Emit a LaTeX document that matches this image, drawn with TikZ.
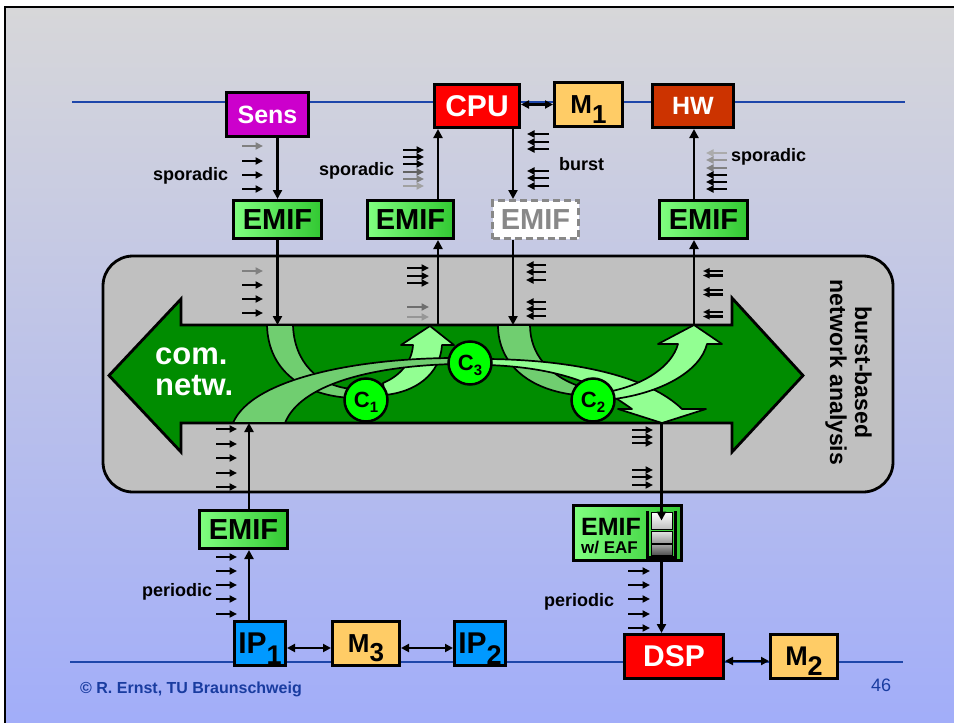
\documentclass[tikz,border=0pt]{standalone}
\usepackage{fontspec}
\setmainfont{Liberation Sans}
\usetikzlibrary{arrows.meta}
\definecolor{bgtop}{RGB}{215,215,217}
\definecolor{bgbot}{RGB}{160,172,250}
\definecolor{rulec}{RGB}{30,70,170}
\definecolor{panel}{RGB}{192,192,192}
\definecolor{netgreen}{RGB}{0,140,0}
\definecolor{bandmid}{RGB}{112,206,112}
\definecolor{bandlight}{RGB}{146,255,146}
\definecolor{cgreen}{RGB}{0,255,0}
\definecolor{emifL}{RGB}{128,255,128}
\definecolor{emifR}{RGB}{50,200,50}
\definecolor{sensc}{RGB}{204,0,204}
\definecolor{cpuc}{RGB}{255,0,0}
\definecolor{memc}{RGB}{255,204,102}
\definecolor{hwc}{RGB}{204,51,0}
\definecolor{ipc}{RGB}{0,153,255}
\definecolor{txtblue}{RGB}{25,60,160}
\definecolor{dashgray}{RGB}{136,136,136}
\newcommand\lowsub[2]{\raisebox{-#1}[0pt][0pt]{#2}}
\newcommand\fsz[1]{\fontsize{#1}{#1}\selectfont}
\begin{document}
\begin{tikzpicture}[x=1pt,y=-1pt,
  box/.style={draw=black,line width=3pt,inner sep=0pt,font=\bfseries},
  emif/.style={box,left color=emifL,right color=emifR,minimum width=88pt,minimum height=38pt,font=\fsz{29}\bfseries},
  conn/.style={line width=2.3pt,-{Triangle[length=9pt,width=9pt]}},
  dconn/.style={line width=2.3pt,{Triangle[length=8pt,width=8pt]}-{Triangle[length=8pt,width=8pt]}},
  flowr/.style={line width=2.4pt,-{Triangle[length=7.5pt,width=7pt]}},
  band/.style={draw=black,line width=1.7pt,line join=round},
  cnode/.style={circle,draw=black,line width=2.5pt,fill=cgreen,minimum size=43pt,inner sep=0pt,font=\fsz{22}\bfseries},
  lbl/.style={font=\fsz{18}\bfseries,inner sep=0pt,anchor=base west}]
\useasboundingbox (0,0) rectangle (954,723);
% background frame
\fill[white] (0,0) rectangle (954,723);
\draw[line width=2.2pt,top color=bgtop,bottom color=bgbot] (5,7) rectangle (975,745);
% rules
\draw[rulec,line width=1.4pt] (72,102) -- (905,102);
\draw[rulec,line width=1.4pt] (70,662) -- (903,662);
% panel
\draw[line width=2.8pt,fill=panel,rounded corners=30pt] (103,256) rectangle (893,492);
% network arrow
\draw[line width=2.8pt,fill=netgreen] (109,375.5) -- (181,299) -- (181,325) -- (732,325) -- (732,298) -- (803,375.5) -- (732,452) -- (732,423) -- (181,423) -- (181,452) -- cycle;
\coordinate (gtop) at (0,325);
\coordinate (gbot) at (0,423);
% bands
\draw[band,fill=bandmid] (267,325) .. controls (268,372) and (305,396) .. (352,398) -- (352,389) .. controls (318,386) and (294,362) .. (293,325) -- cycle;
\draw[band,fill=bandlight] (383,383) .. controls (400,376) and (412,362) .. (413,345) -- (401,345) -- (430,326) -- (454,345) -- (442,345) .. controls (440,375) and (415,392) .. (385,395) -- cycle;
\draw[band,fill=bandmid] (233,423) .. controls (252,378) and (360,358) .. (455,358) -- (455,364) .. controls (370,366) and (300,385) .. (285,423) -- cycle;
\draw[band,fill=bandmid] (498,325) .. controls (498,365) and (530,390) .. (576,395) -- (576,385) .. controls (550,375) and (530,355) .. (530,325) -- cycle;
\draw[band,fill=bandlight] (488,359) .. controls (580,360) and (650,378) .. (682,409) -- (706,409) -- (662,423) -- (618,409) -- (632,409) .. controls (605,390) and (570,368) .. (488,365) -- cycle;
\draw[band,fill=bandlight] (612,391) .. controls (645,384) and (672,366) .. (678,344) -- (658,344) -- (694,325) -- (722,344) -- (707,344) .. controls (700,372) and (660,393) .. (614,399) -- cycle;
% clusters
\node[cnode] (C1) at (366,400) {C\lowsub{5pt}{\fsz{15}1}};
\node[cnode] (C3) at (470,363) {C\lowsub{5pt}{\fsz{15}3}};
\node[cnode] (C2) at (593,400) {C\lowsub{5pt}{\fsz{15}2}};
% top boxes
\node[box,fill=sensc,text=white,minimum width=82pt,minimum height=44pt,font=\fsz{25}\bfseries] (Sens) at (267.5,114.5) {Sens};
\node[box,fill=cpuc,text=white,minimum width=85pt,minimum height=43pt,font=\fsz{30}\bfseries] (CPU) at (477,106) {CPU};
\node[box,fill=memc,minimum width=68pt,minimum height=44pt,font=\fsz{26}\bfseries] (M1) at (588.5,104.5) {M\lowsub{10pt}{1}};
\node[box,fill=hwc,text=white,minimum width=81pt,minimum height=43pt,font=\fsz{25}\bfseries] (HW) at (693,106) {HW};
% EMIFs
\node[emif] (E1) at (277.5,219.5) {EMIF};
\node[emif,minimum width=86pt] (E2) at (410.5,219.5) {EMIF};
\node[box,draw=dashgray,dash pattern=on 7pt off 4pt,fill=white,text=dashgray,minimum width=86pt,minimum height=38pt,font=\fsz{29}\bfseries] (E3) at (535.5,219.5) {EMIF};
\node[emif] (E4) at (703.5,219.5) {EMIF};
\node[emif] (E5) at (243.5,529.5) {EMIF};
\node[box,left color=emifL,right color=emifR,minimum width=108pt,minimum height=55pt] (E6) at (627.5,533) {};
\node[lbl,font=\fsz{25}\bfseries] (E6t) at (581,535) {EMIF};
\node[lbl,font=\fsz{17}\bfseries] (E6s) at (581,553) {w/ EAF};
% queue
\node[minimum width=27pt,minimum height=46pt,inner sep=0pt] (queue) at (661.5,534) {};
\node[draw=black,line width=0.8pt,top color=white,bottom color=black!25,minimum width=21pt,minimum height=17pt,inner sep=0pt] (qtop) at (661.5,520.5) {};
\node[draw=black,line width=0.8pt,top color=black!10,bottom color=black!40,minimum width=21pt,minimum height=12pt,inner sep=0pt] (qmid) at (661.5,537) {};
\node[draw=black,line width=0.8pt,top color=black!35,bottom color=black!70,minimum width=21pt,minimum height=11pt,inner sep=0pt] (qbot) at (661.5,550) {};
\draw[line width=2.8pt] (queue.north west) -- (queue.south west) -- (queue.south east) -- (queue.north east);
% bottom boxes
\node[box,fill=ipc,minimum width=51pt,minimum height=44pt,font=\fsz{30}\bfseries] (IP1) at (260,643.5) {IP\lowsub{11pt}{\fsz{27}1}};
\node[box,fill=memc,minimum width=67pt,minimum height=44pt,font=\fsz{26}\bfseries] (M3) at (366,643.5) {M\lowsub{9pt}{3}};
\node[box,fill=ipc,minimum width=51pt,minimum height=44pt,font=\fsz{30}\bfseries] (IP2) at (480,643.5) {IP\lowsub{11pt}{\fsz{27}2}};
\node[box,fill=cpuc,text=white,minimum width=99pt,minimum height=44pt,font=\fsz{30}\bfseries] (DSP) at (674,656.5) {DSP};
\node[box,fill=memc,minimum width=67pt,minimum height=44pt,font=\fsz{27}\bfseries] (M2) at (804,656.5) {M\lowsub{10pt}{2}};
% connector x positions
\coordinate (l2) at (438,0);
\coordinate (l3) at (513,0);
\coordinate (l4) at (694,0);
\coordinate (l5) at (249,0);
\coordinate (l6) at (661.5,0);
% connectors
\draw[dconn] (M1.west -| CPU.east) -- (M1.west);
\draw[dconn] ([yshift=-4.5pt]IP1.east) -- ([yshift=-4.5pt]M3.west);
\draw[dconn] ([yshift=-4.5pt]M3.east) -- ([yshift=-4.5pt]IP2.west);
\draw[dconn] ([yshift=-4.5pt]DSP.east) -- ([yshift=-4.5pt]M2.west);
\draw[conn] (Sens.south -| E1.north) -- (E1.north);
\draw[conn] (E1.south) -- (E1.south |- gtop);
\draw[conn] (l2 |- gtop) -- (l2 |- E2.south);
\draw[conn] (l2 |- E2.north) -- (l2 |- CPU.south);
\draw[conn] (l3 |- CPU.south) -- (l3 |- E3.north);
\draw[conn] (l3 |- E3.south) -- (l3 |- gtop);
\draw[conn] (l4 |- gtop) -- (l4 |- E4.south);
\draw[conn] (l4 |- E4.north) -- (l4 |- HW.south);
\draw[conn] (l5 |- IP1.north) -- (l5 |- E5.south);
\draw[conn] (l5 |- E5.north) -- (l5 |- gbot);
\draw[conn] (l6 |- gbot) -- (qtop.center);
\draw[conn] (queue.south) -- (l6 |- DSP.north);
% event stream symbols
\foreach \yy/\cc in {146/black!50,161/black,175/black,189/black}
  \draw[flowr,color=\cc] (242,\yy) -- (263,\yy);
\foreach \yy/\cc in {150/black,157/black,164/black,172/black!62,179/black!50,186/black!37}
  \draw[flowr,color=\cc] (403,\yy) -- (424,\yy);
\foreach \yy in {134,142,149,171,178,186}
  \draw[flowr] (549,\yy) -- (527,\yy);
\foreach \yy/\cc in {153/black!33,160/black!41,168/black!50,175/black,182/black,189/black}
  \draw[flowr,color=\cc] (727,\yy) -- (706,\yy);
\foreach \yy/\cc in {271/black!50,285/black,299/black,313/black}
  \draw[flowr,color=\cc] (242,\yy) -- (263,\yy);
\foreach \yy/\cc in {268/black,276/black,283/black,307/black!57,317/black!41}
  \draw[flowr,color=\cc] (407,\yy) -- (429,\yy);
\foreach \yy in {265,272,280,302,309,316}
  \draw[flowr] (546,\yy) -- (526,\yy);
\foreach \yy in {271,275.5,290,294.5,312,316.5}
  \draw[line width=2.2pt,-{Triangle[length=6.5pt,width=5.5pt]}] (723,\yy) -- (703,\yy);
\foreach \yy in {429,444,458,473,487}
  \draw[flowr] (216,\yy) -- (237,\yy);
\foreach \yy in {430,437,443,470,477,485}
  \draw[flowr] (632,\yy) -- (653,\yy);
\foreach \yy in {557,571,585,599,614}
  \draw[flowr] (216,\yy) -- (237,\yy);
\foreach \yy in {571,585,599,614,628}
  \draw[flowr] (628,\yy) -- (650,\yy);
% labels
\node[lbl] (s1) at (153,180) {sporadic};
\node[lbl] (s2) at (319,175) {sporadic};
\node[lbl] (bu) at (559,170) {burst};
\node[lbl] (s3) at (731,161) {sporadic};
\node[lbl] (p1) at (142,596) {periodic};
\node[lbl] (p2) at (544,606) {periodic};
\node[font=\fsz{31}\bfseries,text=white,align=left,anchor=west,inner sep=0pt] (net) at (155,372) {\fontsize{31}{37}\selectfont com.\\netw.};
\node[rotate=-90,align=center,font=\fontsize{23}{25}\selectfont\bfseries,inner sep=0pt] (ana) at (848.5,372.5) {burst-based\\network analysis};
\node[lbl,font=\fsz{16}\bfseries,text=txtblue] (copy) at (80,693) {© R. Ernst, TU Braunschweig};
\node[lbl,font=\fsz{18},text=txtblue] (pg) at (871,691) {46};
\end{tikzpicture}
\end{document}
